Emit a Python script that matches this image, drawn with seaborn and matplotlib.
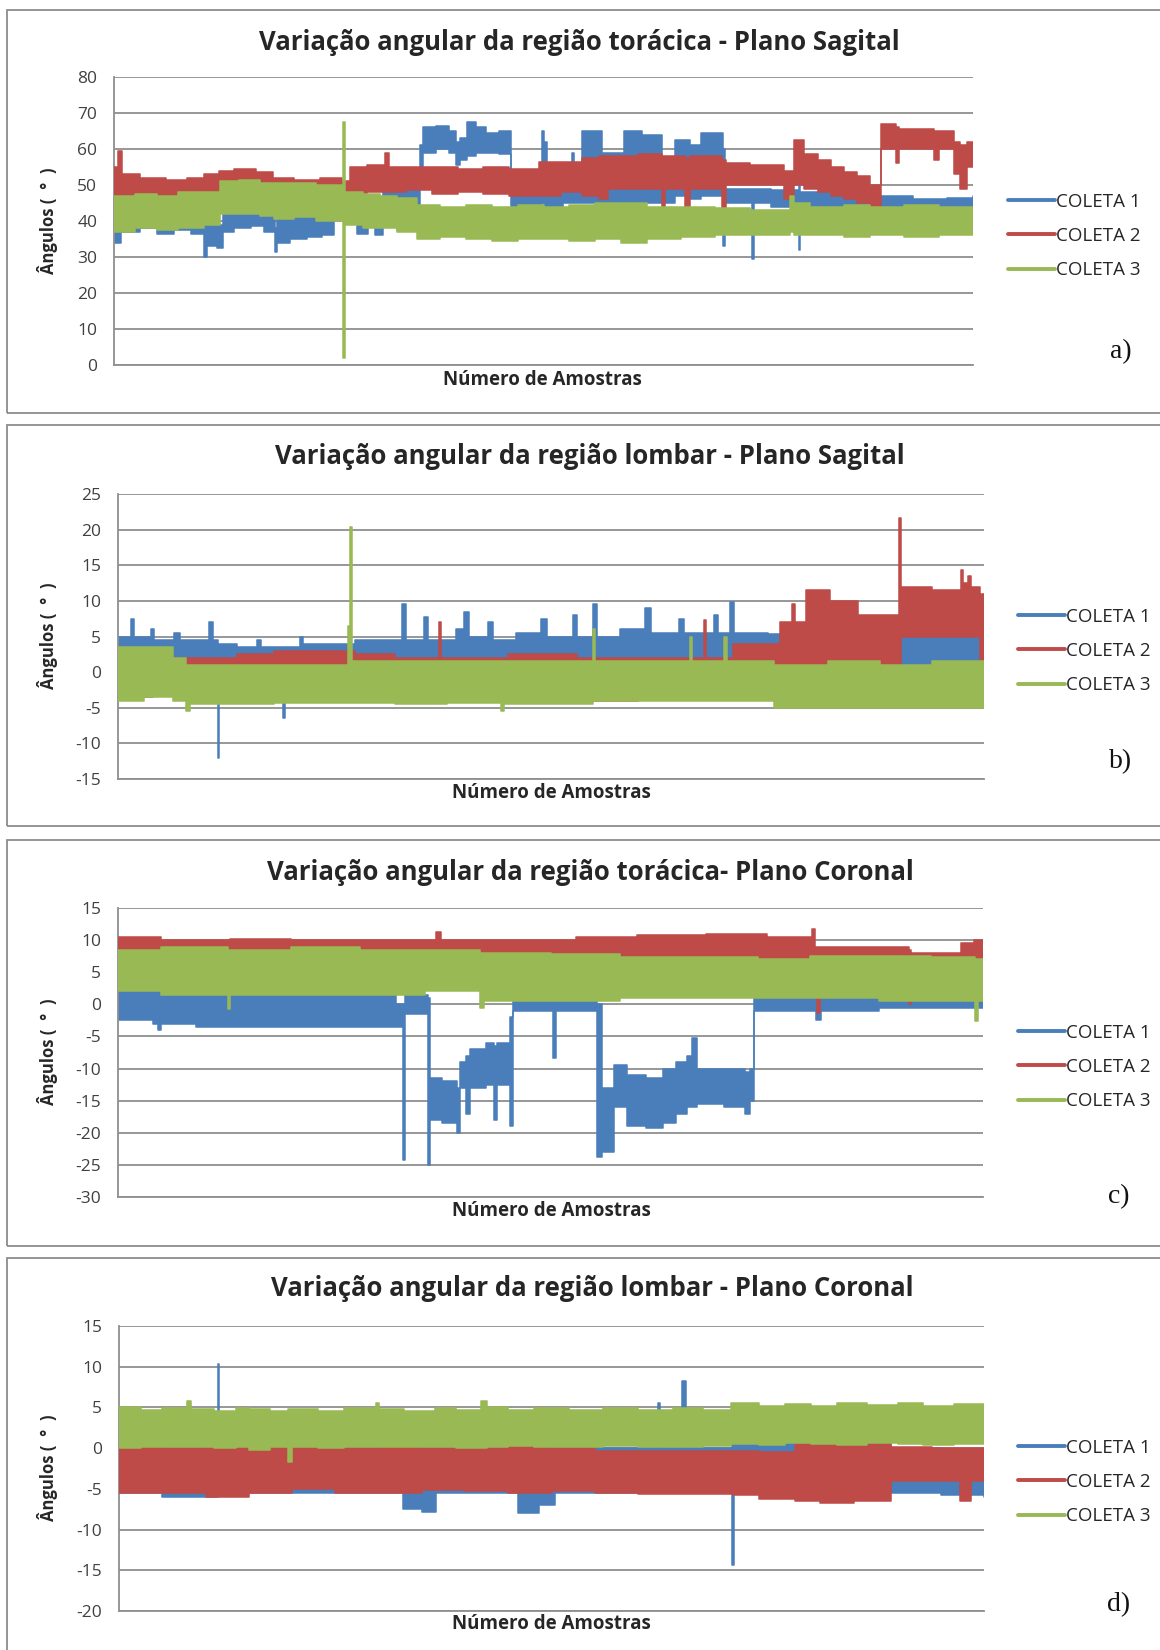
import matplotlib
matplotlib.use("Agg")
import matplotlib.pyplot as plt
import pandas as pd
import seaborn as sns
from matplotlib.patches import Rectangle

# ── Data ──
# each tuple: (position along the record in %, lower envelope, upper envelope);
# a level holds until the next position (step plot)

# a) região torácica - plano sagital
tor_sag_c1 = [
    (0, 34, 45), (0.8, 37, 44), (3, 38, 44.5), (5, 36.5, 43), (7, 37.5, 44), (9, 36.5, 43.5),
    (10.5, 30, 40), (10.8, 33, 40.5), (12.0, 32.5, 39), (12.7, 37, 43), (14, 38, 43.5),
    (16, 38.5, 44), (17.5, 37, 43), (18.7, 31.5, 38), (19.0, 34, 41), (20.5, 35, 41.5),
    (22.5, 35.5, 41), (24.2, 36, 42), (25.6, 41, 44), (26.7, 40, 46), (28.3, 36.5, 45),
    (29.6, 39, 45), (30.4, 36, 44), (31.3, 44, 49.5), (33.0, 37.5, 49), (33.3, 44, 50),
    (35.6, 50, 61), (36.0, 59, 66), (37.5, 60, 66.5), (39.0, 59, 65), (39.8, 55.5, 62),
    (40.3, 57, 63), (41.1, 58, 67.5), (42.2, 59, 66), (43.3, 59, 64.5), (44.8, 58.5, 65),
    (46.2, 44, 50), (48, 44, 49), (49.8, 45, 65), (50.1, 44, 62), (50.4, 44, 50),
    (52.3, 45, 51), (53.3, 45, 59), (53.6, 45, 50), (54.5, 45, 65), (56.8, 44, 59),
    (59.4, 45, 65), (61.5, 45, 64), (63.8, 45, 57), (65.3, 47, 62.5), (67, 46, 61),
    (68.3, 47, 64.5), (70.9, 33, 60), (71.1, 45, 49), (74.3, 29.5, 49), (74.5, 45, 49),
    (76.5, 44, 48.5), (79.7, 32, 50), (79.9, 44, 48), (84, 44, 47.5), (88.8, 42, 47),
    (93, 42, 46), (97, 42, 46.5), (100, 42.5, 47),
]
tor_sag_c2 = [
    (0, 46, 55), (0.5, 46, 59.5), (0.9, 46, 53), (3, 46, 52), (6, 45.5, 51.5), (8.5, 45, 52),
    (10.5, 45, 53), (12.2, 48, 54), (14, 48, 54.5), (16.5, 48.5, 53.5), (18.5, 47, 52),
    (21, 47.5, 51.5), (24, 47, 52), (26.5, 44, 51), (27.5, 47, 55), (29.5, 48, 55.5),
    (31.6, 48, 59), (32.0, 48, 55), (34, 48.5, 55), (37, 47.5, 55), (40, 48, 54.5),
    (43, 47.5, 55), (46, 47, 54.5), (49.5, 47, 56.5), (52, 48, 56.5), (54.5, 47, 57.5),
    (56.5, 46, 58), (57.5, 49, 58), (61, 49, 58.5), (63.8, 42, 58), (64.2, 49, 58),
    (66.5, 44, 57.5), (67, 49, 58), (70.8, 43.5, 57), (71.2, 50, 56), (74, 50, 55.5),
    (78.0, 46, 54), (79.2, 50, 62.5), (80.3, 49, 58.5), (82, 48, 57), (83.5, 47, 55),
    (85, 46, 53.5), (86.5, 45, 52.5), (88, 43, 50), (89.3, 60, 67), (91, 56, 66),
    (91.4, 60, 65.5), (95.5, 57, 65), (96, 60, 65), (97.8, 53, 62), (98.5, 49, 61),
    (99.3, 55, 62), (100, 55, 62),
]
tor_sag_c3 = [
    (0, 37, 47), (2.5, 38, 47.5), (5, 37.5, 47), (7.5, 38, 48), (10.5, 39, 48), (12.3, 42, 51),
    (14.5, 42, 51.5), (17, 41.5, 50.5), (18.6, 40.5, 50.5), (21, 41, 50.5), (23.5, 40, 50),
    (26.7, 2, 67.5), (26.85, 39, 48), (29, 38, 47.5), (31, 38, 47), (33, 37, 46.5),
    (35.3, 35, 44.5), (38, 35.5, 44), (41, 35, 44.5), (44, 34.5, 44), (47, 35, 44.5),
    (50, 35, 44), (53, 34.5, 44.5), (56, 35, 45), (59, 34, 45), (62, 35, 44), (66, 35.5, 44),
    (70, 36, 43.5), (74, 36, 43), (78.7, 37, 47), (79.2, 36, 45), (81, 36, 44),
    (85, 35.5, 44.5), (88, 36, 44), (92, 35.5, 44.5), (96, 36, 44), (100, 36, 44),
]

# b) região lombar - plano sagital
lom_sag_c1 = [
    (0, 1, 5), (1.5, 1, 7.5), (1.9, 1, 5), (3.8, 1, 6), (4.2, 1, 4.5), (6.5, 1, 5.5),
    (7.2, 1, 4.5), (10.5, 1, 7), (11.0, 1, 4.5), (11.5, -12, 4), (11.7, 1, 4), (13.7, 0.5, 3.5),
    (16, 0.5, 4.5), (16.5, 0.5, 3.5), (19.1, -6.5, 3.5), (19.3, 0.5, 3.5), (21, 0.5, 5),
    (21.4, 0.5, 4), (27.4, 1, 4.5), (32.8, 1, 9.5), (33.2, 1, 4.5), (35.3, 1, 7.8),
    (35.8, 1, 4.5), (39, 1, 6), (40.0, 1, 8.5), (40.5, 1, 5), (42.7, 1, 7), (43.3, 1, 4.5),
    (46, 1, 5.5), (48.8, 1, 7.5), (49.5, 1, 5), (52.5, 1, 8), (53, 1, 5), (54.8, 1, 9.5),
    (55.3, 1, 5), (58, 1, 6), (60.8, 1, 9), (61.5, 1, 5.5), (64.8, 1, 7.5), (65.4, 1, 5.5),
    (68.8, 1, 8), (69.3, 1, 5.5), (70.7, 1, 9.8), (71.1, 3.8, 5.5), (75, 3.8, 5.3),
    (79.8, 0, 5), (80.4, 0, 6.8), (80.8, 0, 5), (86, 0, 5.5), (89, -1, 5.5),
    (96, -0.5, 5.5), (100, -0.5, 5.5),
]
lom_sag_c2 = [
    (0, -3.5, 2), (4, -3, 2), (13.7, -3, 2.5), (18, -3, 3), (27.4, -3, 2.5), (32, -3, 2),
    (37.1, -3, 7), (37.35, -3, 2), (45, -3, 2.5), (53, -4, 2), (60, -3, 2), (67.7, -3, 7.3),
    (67.95, -3, 2), (71, -3, 4), (76.5, 0, 7), (77.8, 0, 9.5), (78.2, 0, 7), (79.4, 0, 11.5),
    (82.2, 0, 10), (85.5, 0, 8), (90.2, 0, 21.7), (90.45, 5, 12), (94, 5, 11.5),
    (97.3, 5, 14.4), (97.6, 5, 12.5), (98.2, 5, 13.5), (98.5, 5, 12), (99.5, -2, 11),
    (100, -2, 11),
]
lom_sag_c3 = [
    (0, -4, 3.5), (3, -3.5, 3.5), (6.4, -4, 2), (7.9, -5.5, 1), (8.3, -4.5, 1), (13, -4.5, 1),
    (18, -4.3, 1), (26.6, -4.3, 6.5), (26.8, -4.3, 20.3), (27.0, -4.3, 1.5), (32, -4.5, 1.5),
    (38, -4.3, 1.5), (44.2, -5.5, 1.5), (44.6, -4.5, 1.5), (54.8, -4, 6), (55.1, -4, 1.5),
    (66, -4, 5), (66.3, -4, 1.5), (70, -4, 5), (70.3, -4, 1.5), (75.8, -5, 1), (82, -5, 1.5),
    (88, -5, 1), (94, -5, 1.5), (100, -5, 1),
]

# c) região torácica - plano coronal
tor_cor_c1 = [
    (0, -2.5, 2.5), (4, -3, 2.5), (4.6, -4, 2), (5, -3, 2), (9, -3.5, 1.5), (12, -3.5, 2),
    (16, -3.5, 1.5), (32.1, -3.5, 0), (32.9, -24.3, 0), (33.2, -1.5, 1.5), (35.8, -25, 1),
    (36.1, -18, -11.5), (37.5, -18.5, -12), (39.2, -20, -13), (39.5, -13, -9), (40.2, -17, -8),
    (40.7, -13, -7), (42.5, -12.5, -6), (43.5, -18, -6.5), (43.8, -12.5, -6), (45.3, -19, -2),
    (45.7, -1, 1), (50.3, -8.3, 1), (50.6, -1, 1), (55.4, -23.7, 0), (55.9, -23, -13),
    (57.3, -16, -9.5), (58.8, -19, -11), (61, -19.3, -11.5), (63, -18.5, -10), (64.5, -17, -9),
    (65.8, -16, -8), (66.4, -16, -5.2), (66.9, -15.5, -10), (70, -16, -10), (72.5, -17, -10.5),
    (73.1, -15, -10), (73.5, -1, 1.5), (80.7, -2.5, 1.5), (81.3, -1, 1.5), (88, -0.5, 1.8),
    (100, 0, 1.5),
]
tor_cor_c2 = [
    (0, 7.5, 10.5), (5, 7, 10), (12.6, 5.2, 10), (12.9, 7, 10.2), (20, 6.8, 10), (28, 7, 10),
    (36.8, 7.5, 11.2), (37.3, 7, 10), (45, 7, 10), (53, 7, 10.5), (60, 6.5, 10.8),
    (68, 6.5, 11), (75, 7, 10.5), (80.2, 7, 11.7), (80.6, 7, 9), (80.8, -1.3, 9), (81.2, 7, 9),
    (91.5, 0, 8.5), (91.7, 7, 8), (97.4, 4.5, 9.5), (99.0, 5, 10), (100, 4.5, 9),
]
tor_cor_c3 = [
    (0, 2, 8.5), (5, 1.5, 9), (12.7, -0.8, 8.5), (12.9, 1.5, 8.5), (20, 1.5, 9), (28, 1.5, 8.5),
    (35.5, 2, 8.5), (41.9, -0.5, 8), (42.3, 0.5, 8), (50, 0.5, 7.8), (58, 1, 7.3),
    (66, 1, 7.3), (74, 1, 7), (80, 1, 7.5), (88, 0.5, 7.5), (94, 0.5, 7.3), (99.1, -2.6, 7),
    (99.4, 0.5, 7), (100, 0.5, 7),
]

# d) região lombar - plano coronal
lom_cor_c1 = [
    (0, -5.5, 0), (5, -6, 0), (11.4, -5.5, 10.3), (11.6, -5.5, 0), (20, -5.5, 0),
    (32.8, -7.5, 0), (35, -7.8, 0), (36.7, -5.5, 0), (46.1, -8, 0), (48.5, -7, 0),
    (50.4, -5.5, 0), (62.3, -5.5, 5.5), (62.5, -5.5, 0), (65.1, -5.5, 8.3), (65.5, -5.5, 0),
    (70.9, -14.4, 0.5), (71.1, -3, 1), (78.4, -5, 0.5), (81, -2.5, 1), (89.2, -5.5, 0),
    (95, -5.7, -0.5), (100, -6, -0.5),
]
lom_cor_c2 = [
    (0, -5.5, 0.3), (5, -5.5, 0), (10, -6, 0.3), (15, -5.5, 0.3), (20, -5, 0), (25, -5.5, 0),
    (30, -5.5, 0.3), (35, -5.2, 0), (40, -5.3, 0), (45, -5.5, 0.3), (50, -5.3, 0),
    (55, -5.5, -0.3), (60, -5.6, -0.3), (66, -5.6, -0.3), (71, -5.8, -0.3), (74, -6.2, -0.5),
    (78.2, -6.5, 0.5), (81, -6.7, 0.5), (85, -6.5, 0.5), (89.3, -4, 0.2), (94, -4, 0),
    (97.2, -6.5, 0), (98.5, -4, 0), (100, -4, 0),
]
lom_cor_c3 = [
    (0, 0, 5), (2.5, 0.2, 4.7), (5, 0.2, 4.9), (7.9, 0.2, 5.8), (8.3, 0.2, 4.8), (11, 0, 4.6),
    (13.5, 0.2, 4.9), (15, -0.2, 4.8), (17.5, 0.1, 4.6), (19.5, -1.7, 4.8), (20, 0.2, 4.8),
    (23, 0, 4.6), (26, 0.2, 4.9), (29.7, 0.2, 5.5), (30.1, 0.2, 4.8), (33, 0.1, 4.6),
    (36.5, 0.2, 4.9), (39, 0, 4.7), (41.8, 0, 5.8), (42.5, 0.2, 5), (45, 0.3, 4.7),
    (48, 0.1, 4.9), (52, 0.2, 4.7), (56, 0.3, 4.9), (60, 0.2, 4.7), (64, 0.2, 4.9),
    (67.5, 0.3, 4.7), (70.8, 0.5, 5.5), (74, 0.4, 5.2), (77, 0.6, 5.4), (80, 0.5, 5.2),
    (83, 0.4, 5.5), (86.5, 0.6, 5.3), (90, 0.5, 5.5), (93, 0.4, 5.2), (96.5, 0.5, 5.4),
    (100, 0.5, 5.2),
]

titles = [
    "Variação angular da região torácica - Plano Sagital",
    "Variação angular da região lombar - Plano Sagital",
    "Variação angular da região torácica- Plano Coronal",
    "Variação angular da região lombar - Plano Coronal",
]
y_ranges = [(0, 80, 10), (-15, 25, 5), (-30, 15, 5), (-20, 15, 5)]
series_labels = ["COLETA 1", "COLETA 2", "COLETA 3"]
panel_letters = ["a)", "b)", "c)", "d)"]

panel_series = [
    [tor_sag_c1, tor_sag_c2, tor_sag_c3],
    [lom_sag_c1, lom_sag_c2, lom_sag_c3],
    [tor_cor_c1, tor_cor_c2, tor_cor_c3],
    [lom_cor_c1, lom_cor_c2, lom_cor_c3],
]

# ── Layout (pixels of the 1160x1650 output, measured from top) ──
W, H = 1160, 1650
layout = [
    dict(ax=(114, 973, 77, 365), title=(579, 42), xlab=(542, 380), ylab=(48, 221),
         leg=(1008, 236), letter=(1121, 352), frame=(10, 413)),
    dict(ax=(118, 984, 494, 779), title=(590, 457), xlab=(551, 793), ylab=(48, 636),
         leg=(1018, 651), letter=(1121, 762), frame=(425, 826)),
    dict(ax=(118, 983, 908, 1197), title=(590, 873), xlab=(551, 1211), ylab=(48, 1052),
         leg=(1018, 1067), letter=(1119, 1197), frame=(840, 1246)),
    dict(ax=(119, 984, 1326, 1611), title=(592, 1288), xlab=(551, 1624), ylab=(48, 1468),
         leg=(1018, 1482), letter=(1119, 1605), frame=(1258, 1670)),
]

COLORS = ["#4a7ebb", "#be4b48", "#98b954"]
GRID = "#8f8f8f"
TEXT = "#262626"

sns.set_style("white")
plt.rcParams["font.family"] = ["Open Sans", "DejaVu Sans"]
plt.rcParams["axes.unicode_minus"] = False


def fx(px):
    return px / W


def fy(py):
    return 1 - py / H


def draw_panel(fig, series, title, yr, letter, lay):
    l, r, t, b = lay["ax"]
    ax = fig.add_axes([fx(l), fy(b), fx(r - l), (b - t) / H])

    # Excel order: COLETA 1 at the back, COLETA 3 in front
    for i, data in enumerate(series):
        df = pd.DataFrame(data, columns=["amostra", "inf", "sup"])
        ax.fill_between(df["amostra"], df["inf"], df["sup"], step="post",
                        color=COLORS[i], lw=0, zorder=2 + i)
        for col in ["inf", "sup"]:
            sns.lineplot(x=df["amostra"].values, y=df[col].values, ax=ax, color=COLORS[i],
                         lw=1.1, drawstyle="steps-post", estimator=None, sort=False,
                         legend=False, zorder=2.5 + i)

    ymin, ymax, step = yr
    ax.set_xlim(0, 100)
    ax.set_ylim(ymin, ymax)
    ax.set_yticks(range(ymin, ymax + 1, step))
    ax.set_xticks([])
    ax.grid(axis="y", color=GRID, lw=1.3)
    ax.set_axisbelow(True)
    for side in ["top", "right"]:
        ax.spines[side].set_visible(False)
    for side in ["left", "bottom"]:
        ax.spines[side].set_color(GRID)
        ax.spines[side].set_linewidth(1.3)
    ax.tick_params(axis="y", length=0, pad=12, labelsize=12.5, labelcolor="#404040")
    ax.set_xlabel("")
    ax.set_ylabel("")

    fig.text(fx(lay["title"][0]), fy(lay["title"][1]), title, ha="center", va="center",
             fontsize=18.5, fontweight="bold", color=TEXT)
    fig.text(fx(lay["xlab"][0]), fy(lay["xlab"][1]), "Número de Amostras", ha="center",
             va="center", fontsize=13.5, fontweight="bold", color=TEXT)
    fig.text(fx(lay["ylab"][0]), fy(lay["ylab"][1]), "Ângulos (  °  )", ha="center",
             va="center", rotation=90, fontsize=12, fontweight="bold", color=TEXT)
    fig.text(fx(lay["letter"][0]), fy(lay["letter"][1]), letter, ha="center", va="center",
             fontsize=20, family="Liberation Serif", color="#111111")

    handles = [plt.Line2D([], [], color=c, lw=2.8) for c in COLORS]
    ax.legend(handles, series_labels, loc="center left",
              bbox_to_anchor=(fx(lay["leg"][0]), fy(lay["leg"][1])),
              bbox_transform=fig.transFigure, frameon=False, fontsize=13.5,
              handlelength=2.5, handletextpad=0.05, labelspacing=0.86,
              borderpad=0, borderaxespad=0, labelcolor="#262626")

    top, bottom = lay["frame"]
    fig.add_artist(Rectangle((fx(7), fy(bottom)), fx(W), (bottom - top) / H,
                             transform=fig.transFigure, fill=False,
                             edgecolor="#8c8c8c", lw=1.3))
    return ax


fig = plt.figure(figsize=(W / 100, H / 100), dpi=100)
fig.patch.set_facecolor("white")
for k in range(4):
    draw_panel(fig, panel_series[k], titles[k], y_ranges[k], panel_letters[k], layout[k])

fig.savefig("out.png", dpi=100, facecolor="white")
